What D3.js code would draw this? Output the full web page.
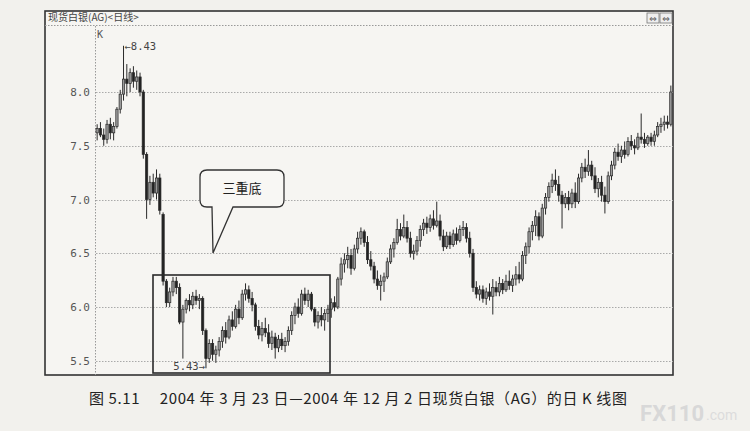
<!DOCTYPE html>
<html><head><meta charset="utf-8">
<script src="https://cdn.jsdelivr.net/npm/d3@7/dist/d3.min.js"></script>
<style>html,body{margin:0;padding:0;background:#f2f1ed;}svg{display:block;}</style>
</head><body>
<script>
const open = [7.62,7.66,7.60,7.56,7.70,7.62,7.68,7.84,7.98,8.12,8.08,8.18,8.10,8.14,8.00,7.42,7.00,7.16,7.06,7.20,
6.86,6.24,6.04,6.14,6.24,6.18,5.86,5.98,6.06,6.02,6.10,6.06,6.08,5.78,5.52,5.66,5.56,5.60,5.68,5.78,
5.72,5.88,5.82,5.98,5.90,6.12,6.16,6.08,6.02,5.82,5.74,5.80,5.76,5.66,5.72,5.62,5.70,5.64,5.68,5.78,
5.92,6.00,5.94,6.12,6.06,6.12,5.98,5.86,5.92,5.88,5.94,5.98,6.04,6.00,6.26,6.40,6.44,6.48,6.36,6.54,
6.64,6.70,6.60,6.44,6.38,6.26,6.20,6.24,6.28,6.42,6.54,6.60,6.72,6.66,6.74,6.64,6.50,6.52,6.62,6.72,
6.78,6.74,6.82,6.76,6.80,6.66,6.56,6.66,6.58,6.68,6.62,6.72,6.74,6.64,6.50,6.18,6.12,6.16,6.08,6.14,
6.10,6.18,6.14,6.22,6.16,6.24,6.20,6.26,6.30,6.26,6.48,6.56,6.70,6.76,6.84,6.66,6.92,7.02,7.12,7.18,
7.14,7.04,6.96,7.02,6.96,7.06,6.98,7.20,7.30,7.26,7.32,7.22,7.10,7.16,7.04,6.98,7.22,7.32,7.44,7.40,
7.46,7.42,7.54,7.50,7.48,7.58,7.56,7.52,7.58,7.54,7.60,7.68,7.70,7.72,7.70];
const high = [7.70,7.72,7.66,7.74,7.76,7.72,7.86,8.02,8.43,8.26,8.22,8.24,8.20,8.18,8.02,7.44,7.22,7.24,7.28,7.24,
6.88,6.26,6.18,6.28,6.28,6.22,6.02,6.08,6.12,6.14,6.16,6.12,6.10,5.80,5.70,5.70,5.64,5.72,5.82,5.86,
5.92,5.96,6.02,6.06,6.16,6.22,6.20,6.14,6.04,5.88,5.86,5.90,5.84,5.78,5.76,5.74,5.76,5.72,5.82,5.96,
6.04,6.08,6.16,6.18,6.16,6.14,6.00,5.96,6.00,5.98,6.02,6.08,6.10,6.28,6.46,6.50,6.56,6.54,6.58,6.70,
6.74,6.72,6.66,6.52,6.42,6.34,6.30,6.32,6.46,6.58,6.64,6.82,6.78,6.86,6.80,6.70,6.58,6.66,6.76,6.82,
6.84,6.86,6.90,6.98,6.86,6.72,6.70,6.70,6.72,6.74,6.76,6.80,6.78,6.70,6.54,6.24,6.20,6.20,6.18,6.22,
6.26,6.24,6.28,6.26,6.30,6.34,6.30,6.38,6.42,6.52,6.60,6.74,6.80,6.90,6.88,6.96,7.06,7.16,7.24,7.28,
7.22,7.08,7.06,7.08,7.10,7.16,7.24,7.34,7.38,7.46,7.36,7.30,7.20,7.22,7.12,7.26,7.36,7.48,7.52,7.50,
7.54,7.58,7.60,7.56,7.62,7.80,7.62,7.60,7.62,7.64,7.72,7.76,7.78,7.78,8.06];
const low = [7.55,7.58,7.50,7.52,7.56,7.55,7.66,7.80,7.92,7.96,8.00,8.04,8.02,7.96,7.38,6.82,6.95,7.02,7.00,6.86,
6.20,6.00,6.00,6.10,6.12,5.84,5.52,5.94,5.96,5.98,6.02,5.98,5.74,5.43,5.48,5.50,5.48,5.54,5.62,5.66,
5.70,5.78,5.80,5.84,5.88,6.06,6.04,5.96,5.78,5.70,5.68,5.72,5.62,5.60,5.52,5.58,5.60,5.58,5.64,5.74,
5.84,5.90,5.92,6.02,6.00,5.96,5.82,5.80,5.82,5.78,5.86,5.90,5.96,5.98,6.20,6.32,6.36,6.30,6.34,6.50,
6.58,6.56,6.40,6.34,6.22,6.16,6.06,6.14,6.26,6.40,6.46,6.58,6.62,6.64,6.60,6.46,6.44,6.48,6.56,6.66,
6.68,6.70,6.72,6.74,6.62,6.52,6.54,6.54,6.56,6.58,6.60,6.66,6.60,6.46,6.14,6.08,6.06,6.04,6.02,6.06,
5.93,6.10,6.10,6.12,6.14,6.16,6.14,6.20,6.22,6.24,6.40,6.50,6.62,6.66,6.62,6.64,6.86,6.98,7.06,7.08,
6.98,6.73,6.92,6.90,6.92,6.92,6.96,7.16,7.20,7.22,7.18,7.06,7.02,6.98,6.87,6.96,7.18,7.28,7.36,7.34,
7.38,7.40,7.46,7.42,7.46,7.52,7.48,7.50,7.50,7.50,7.58,7.62,7.64,7.66,7.68];
const close = [7.66,7.60,7.56,7.70,7.62,7.68,7.84,7.98,8.12,8.08,8.18,8.10,8.14,8.00,7.42,7.00,7.16,7.06,7.20,6.90,
6.24,6.04,6.14,6.24,6.18,5.86,5.98,6.06,6.02,6.10,6.06,6.08,5.78,5.52,5.66,5.56,5.60,5.68,5.78,5.72,
5.88,5.82,5.98,5.90,6.12,6.16,6.08,6.02,5.82,5.74,5.80,5.76,5.66,5.72,5.62,5.70,5.64,5.68,5.78,5.92,
6.00,5.94,6.12,6.06,6.12,5.98,5.86,5.92,5.88,5.94,5.98,6.04,6.00,6.26,6.40,6.44,6.48,6.36,6.54,6.64,
6.70,6.60,6.44,6.38,6.26,6.20,6.24,6.28,6.42,6.54,6.60,6.72,6.66,6.74,6.64,6.50,6.52,6.62,6.72,6.78,
6.74,6.82,6.76,6.80,6.66,6.56,6.66,6.58,6.68,6.62,6.72,6.74,6.64,6.50,6.18,6.12,6.16,6.08,6.14,6.10,
6.18,6.14,6.22,6.16,6.24,6.20,6.26,6.30,6.26,6.48,6.56,6.70,6.76,6.84,6.66,6.92,7.02,7.12,7.18,7.14,
7.04,6.96,7.02,6.96,7.06,6.98,7.20,7.30,7.26,7.32,7.22,7.10,7.16,7.04,6.98,7.22,7.32,7.44,7.40,7.46,
7.42,7.54,7.50,7.48,7.58,7.56,7.52,7.58,7.54,7.60,7.68,7.70,7.72,7.70,8.00];
const yTicks = [5.5, 6.0, 6.5, 7.0, 7.5, 8.0];
const yTickLabels = ["5.5","6.0","6.5","7.0","7.5","8.0"];
const chartTitle = "现货白银(AG)<日线>";
const calloutText = "三重底";
const maxLabel = "8.43", minLabel = "5.43";
const caption = "图 5.11\u2003 2004 年 3 月 23 日—2004 年 12 月 2 日现货白银（AG）的日 K 线图";

const W = 750, H = 431;
const svg = d3.select("body").append("svg").attr("width", W).attr("height", H);
svg.append("rect").attr("width", W).attr("height", H).attr("fill", "#f2f1ed");

const frame = {l: 45, t: 11, r: 673, b: 375};
const plot = {l: 96, r: 672};
svg.append("rect").attr("x", frame.l).attr("y", frame.t).attr("width", frame.r - frame.l).attr("height", frame.b - frame.t)
  .attr("fill", "#f6f5f2").attr("stroke", "#333").attr("stroke-width", 1.6);

const n = close.length;
const x = d3.scaleBand().domain(d3.range(n)).range([plot.l, plot.r]).paddingInner(0.3);
const y = d3.scaleLinear().domain([5.5, 8.0]).range([360.75, 92]);

// title bar
svg.append("text").attr("x", 48).attr("y", 21).text(chartTitle)
  .attr("font-family", "'Noto Sans CJK SC', sans-serif").attr("font-size", 10).attr("fill", "#444");
svg.append("line").attr("x1", frame.l).attr("x2", frame.r).attr("y1", 25.5).attr("y2", 25.5)
  .attr("stroke", "#999").attr("stroke-dasharray", "1.5,1.5");
// window buttons
[647, 660].forEach(bx => {
  svg.append("rect").attr("x", bx).attr("y", 13).attr("width", 12).attr("height", 10)
    .attr("fill", "#eee").attr("stroke", "#777").attr("stroke-width", 0.8);
  svg.append("text").attr("x", bx + 6).attr("y", 21.5).attr("text-anchor", "middle").text("⇔")
    .attr("font-family", "DejaVu Sans").attr("font-size", 9).attr("fill", "#555");
});

// y axis line & grid
svg.append("line").attr("x1", 95.5).attr("x2", 95.5).attr("y1", 26).attr("y2", frame.b)
  .attr("stroke", "#999").attr("stroke-dasharray", "1.5,1.5");
const grid = svg.append("g");
yTicks.forEach(v => {
  grid.append("line").attr("x1", 96).attr("x2", frame.r).attr("y1", Math.round(y(v)) + 0.5).attr("y2", Math.round(y(v)) + 0.5)
    .attr("stroke", "#aaa").attr("stroke-dasharray", "1.5,1.5");
});
const yAxis = d3.axisLeft(y).tickValues(yTicks).tickFormat((d, i) => yTickLabels[i]).tickSize(0).tickPadding(5);
const ga = svg.append("g").attr("transform", "translate(95,0)").call(yAxis);
ga.select(".domain").remove();
ga.selectAll("text").attr("font-family", "'DejaVu Sans Mono', monospace").attr("font-size", 11).attr("fill", "#555");
svg.append("text").attr("x", 97).attr("y", 38).text("K").attr("font-family", "'DejaVu Sans Mono', monospace")
  .attr("font-size", 10).attr("fill", "#555");

// candles
const data = d3.range(n).map(i => ({i, o: open[i], h: high[i], l: low[i], c: close[i]}));
const g = svg.append("g");
g.selectAll("line.w").data(data).join("line")
  .attr("x1", d => x(d.i) + x.bandwidth() / 2).attr("x2", d => x(d.i) + x.bandwidth() / 2)
  .attr("y1", d => y(d.h)).attr("y2", d => y(d.l)).attr("stroke", "#2a2a2a").attr("stroke-width", 1);
g.selectAll("rect.b").data(data).join("rect")
  .attr("x", d => x(d.i)).attr("width", x.bandwidth())
  .attr("y", d => y(Math.max(d.o, d.c))).attr("height", d => Math.max(1, Math.abs(y(d.o) - y(d.c))))
  .attr("fill", d => d.c >= d.o ? "#9a9a9a" : "#222").attr("stroke", "#2a2a2a").attr("stroke-width", 0.7);

// max / min annotations
const iMax = d3.maxIndex(high), iMin = d3.minIndex(low);
const xm = x(iMax) + x.bandwidth() / 2;
svg.append("text").attr("x", xm + 1).attr("y", y(high[iMax]) + 4).text("←" + maxLabel)
  .attr("font-family", "'DejaVu Sans Mono', monospace").attr("font-size", 10.5).attr("fill", "#444");
const xn = x(iMin) + x.bandwidth() / 2;
svg.append("text").attr("x", xn - 1).attr("y", y(low[iMin]) + 2).attr("text-anchor", "end").text(minLabel + "→")
  .attr("font-family", "'DejaVu Sans Mono', monospace").attr("font-size", 10.5).attr("fill", "#444");

// highlight box
svg.append("rect").attr("x", 153).attr("y", 275).attr("width", 177).attr("height", 98)
  .attr("fill", "none").attr("stroke", "#2a2a2a").attr("stroke-width", 1.6);

// callout
const cp = d3.path();
const cl = 200, ct = 170, cr = 284, cb = 207, rr = 7;
cp.moveTo(cl + rr, ct); cp.lineTo(cr - rr, ct); cp.quadraticCurveTo(cr, ct, cr, ct + rr);
cp.lineTo(cr, cb - rr); cp.quadraticCurveTo(cr, cb, cr - rr, cb);
cp.lineTo(233, cb); cp.lineTo(213, 253); cp.lineTo(212, cb);
cp.lineTo(cl + rr, cb); cp.quadraticCurveTo(cl, cb, cl, cb - rr);
cp.lineTo(cl, ct + rr); cp.quadraticCurveTo(cl, ct, cl + rr, ct); cp.closePath();
svg.append("path").attr("d", cp.toString()).attr("fill", "#f8f7f4").attr("stroke", "#333").attr("stroke-width", 1.3);
svg.append("text").attr("x", 242).attr("y", 193).attr("text-anchor", "middle").text(calloutText)
  .attr("font-family", "'Noto Sans CJK SC', sans-serif").attr("font-size", 13).attr("fill", "#222");

// caption
svg.append("text").attr("x", 89).attr("y", 404).text(caption)
  .attr("font-family", "'Noto Sans CJK SC', sans-serif").attr("font-size", 15).attr("fill", "#222")
  .attr("textLength", 538).attr("lengthAdjust", "spacing");
// watermark
svg.append("text").attr("x", 704).attr("y", 421).attr("text-anchor", "end").text("FX110")
  .attr("font-family", "Roboto, sans-serif").attr("font-weight", "bold").attr("font-size", 22).attr("fill", "#d8d8d8");
svg.append("text").attr("x", 706).attr("y", 420).text(".com")
  .attr("font-family", "Roboto, sans-serif").attr("font-size", 14).attr("fill", "#dcdcdc");
</script>
</body></html>
